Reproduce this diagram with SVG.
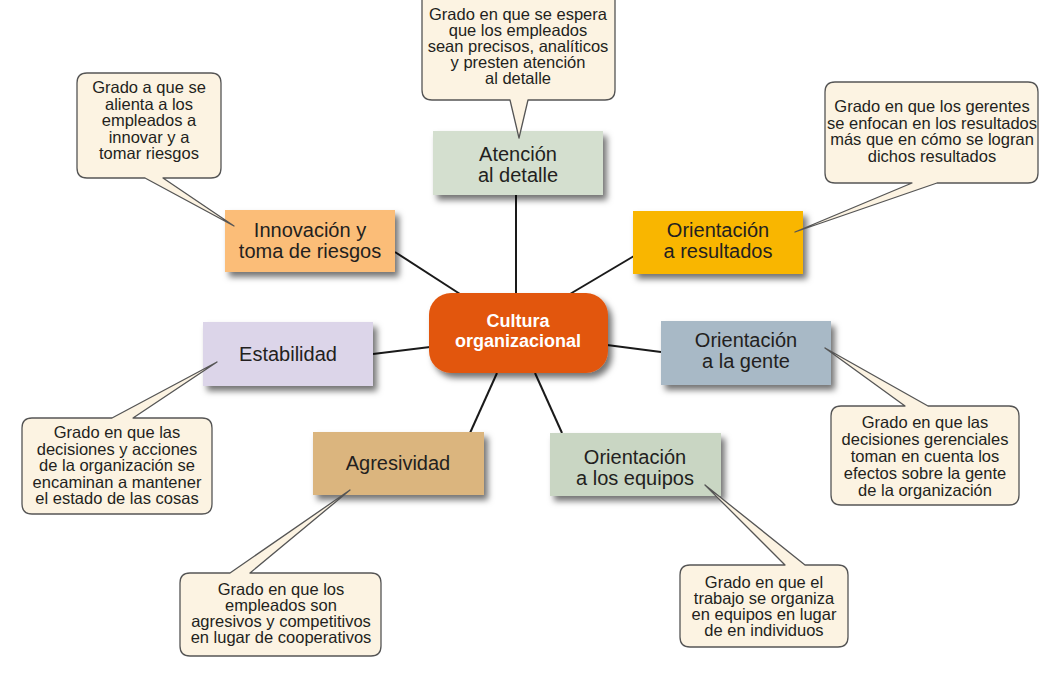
<svg xmlns="http://www.w3.org/2000/svg" width="1063" height="684" viewBox="0 0 1063 684">
<defs>
<filter id="sh" x="-20%" y="-20%" width="150%" height="160%">
<feDropShadow dx="4" dy="5" stdDeviation="3" flood-color="#000" flood-opacity="0.55"/>
</filter>
<style>
.box{stroke:none;filter:url(#sh)}
.bt{font-family:"Liberation Sans",Arial,sans-serif;font-size:20px;fill:#231f20;text-anchor:middle}
.ct{font-family:"Liberation Sans",Arial,sans-serif;font-size:18px;font-weight:bold;fill:#ffffff;text-anchor:middle}
.bub{fill:#fcf3e2;stroke:#555;stroke-width:1.3;stroke-linejoin:round}
.qt{font-family:"Liberation Sans",Arial,sans-serif;font-size:16.5px;fill:#231f20;text-anchor:middle}
.con{stroke:#1a1a1a;stroke-width:2;fill:none}
</style>
</defs>
<rect width="1063" height="684" fill="#ffffff"/>
<g id="connectors">
<line class="con" x1="516" y1="195" x2="516" y2="294"/>
<line class="con" x1="395" y1="252" x2="460" y2="294"/>
<line class="con" x1="634" y1="256" x2="570" y2="294"/>
<line class="con" x1="373" y1="354" x2="430" y2="347"/>
<line class="con" x1="607" y1="345" x2="661" y2="352"/>
<line class="con" x1="497" y1="373" x2="470" y2="433"/>
<line class="con" x1="535" y1="373" x2="562" y2="433"/>
</g>
<g id="node-atencion">
<rect class="box" x="433" y="131" width="170" height="64" fill="#d4dfcf"/>
<text class="bt" x="518" y="161">Atención</text>
<text class="bt" x="518" y="182">al detalle</text>
</g>
<g id="node-innovacion">
<rect class="box" x="225" y="210" width="170" height="62" fill="#fbbd78"/>
<text class="bt" x="310" y="237">Innovación y</text>
<text class="bt" x="310" y="258">toma de riesgos</text>
</g>
<g id="node-resultados">
<rect class="box" x="633" y="211" width="170" height="63" fill="#f9b600"/>
<text class="bt" x="718" y="237">Orientación</text>
<text class="bt" x="718" y="258">a resultados</text>
</g>
<g id="node-estabilidad">
<rect class="box" x="203" y="322" width="170" height="64" fill="#dcd5e9"/>
<text class="bt" x="288" y="361">Estabilidad</text>
</g>
<g id="node-gente">
<rect class="box" x="661" y="321" width="170" height="64" fill="#a8b9c6"/>
<text class="bt" x="746" y="347">Orientación</text>
<text class="bt" x="746" y="368">a la gente</text>
</g>
<g id="node-agresividad">
<rect class="box" x="313" y="432" width="171" height="63" fill="#dbb57e"/>
<text class="bt" x="398" y="470">Agresividad</text>
</g>
<g id="node-equipos">
<rect class="box" x="550" y="433" width="171" height="63" fill="#c9d6c3"/>
<text class="bt" x="635" y="464">Orientación</text>
<text class="bt" x="635" y="485">a los equipos</text>
</g>
<g id="node-cultura">
<rect class="box" x="429" y="293" width="179" height="80" rx="22" fill="#e2560e"/>
<text class="ct" x="518" y="327">Cultura</text>
<text class="ct" x="518" y="347">organizacional</text>
</g>
<g id="callout-atencion">
<path class="bub" d="M432,-10 H605 Q615,-10 615,0 V90 Q615,100 605,100 H528 L519,138 L510,100 H432 Q422,100 422,90 V0 Q422,-10 432,-10 Z"/>
<text class="qt" x="518" y="19.5">Grado en que se espera</text>
<text class="qt" x="518" y="35.5">que los empleados</text>
<text class="qt" x="518" y="51.5">sean precisos, analíticos</text>
<text class="qt" x="518" y="67.5">y presten atención</text>
<text class="qt" x="518" y="83.5">al detalle</text>
</g>
<g id="callout-innovacion">
<path class="bub" d="M87,73 H211 Q221,73 221,83 V168 Q221,178 211,178 H163 L234,226 L145,178 H87 Q77,178 77,168 V83 Q77,73 87,73 Z"/>
<text class="qt" x="149" y="93">Grado a que se</text>
<text class="qt" x="149" y="109.5">alienta a los</text>
<text class="qt" x="149" y="126">empleados a</text>
<text class="qt" x="149" y="142.5">innovar y a</text>
<text class="qt" x="149" y="159">tomar riesgos</text>
</g>
<g id="callout-resultados">
<path class="bub" d="M835,82 H1028 Q1038,82 1038,92 V173 Q1038,183 1028,183 H937 L795,232 L912,183 H835 Q825,183 825,173 V92 Q825,82 835,82 Z"/>
<text class="qt" x="932" y="112">Grado en que los gerentes</text>
<text class="qt" x="932" y="128.5">se enfocan en los resultados</text>
<text class="qt" x="932" y="145">más que en cómo se logran</text>
<text class="qt" x="932" y="161.5">dichos resultados</text>
</g>
<g id="callout-estabilidad">
<path class="bub" d="M32,418 H112 L217,362 L133,418 H202 Q212,418 212,428 V504 Q212,514 202,514 H32 Q22,514 22,504 V428 Q22,418 32,418 Z"/>
<text class="qt" x="117" y="438">Grado en que las</text>
<text class="qt" x="117" y="454.5">decisiones y acciones</text>
<text class="qt" x="117" y="471">de la organización se</text>
<text class="qt" x="117" y="487.5">encaminan a mantener</text>
<text class="qt" x="117" y="504">el estado de las cosas</text>
</g>
<g id="callout-gente">
<path class="bub" d="M841,406 H905 L825,348 L928,406 H1009 Q1019,406 1019,416 V495 Q1019,505 1009,505 H841 Q831,505 831,495 V416 Q831,406 841,406 Z"/>
<text class="qt" x="925" y="428">Grado en que las</text>
<text class="qt" x="925" y="445">decisiones gerenciales</text>
<text class="qt" x="925" y="462">toman en cuenta los</text>
<text class="qt" x="925" y="479">efectos sobre la gente</text>
<text class="qt" x="925" y="496">de la organización</text>
</g>
<g id="callout-agresividad">
<path class="bub" d="M190,573 H230 L350,490 L250,573 H371 Q381,573 381,583 V646 Q381,656 371,656 H190 Q180,656 180,646 V583 Q180,573 190,573 Z"/>
<text class="qt" x="281" y="595">Grado en que los</text>
<text class="qt" x="281" y="611">empleados son</text>
<text class="qt" x="281" y="627">agresivos y competitivos</text>
<text class="qt" x="281" y="643">en lugar de cooperativos</text>
</g>
<g id="callout-equipos">
<path class="bub" d="M690,565 H785 L705,485 L805,565 H838 Q848,565 848,575 V637 Q848,647 838,647 H690 Q680,647 680,637 V575 Q680,565 690,565 Z"/>
<text class="qt" x="764" y="588">Grado en que el</text>
<text class="qt" x="764" y="604">trabajo se organiza</text>
<text class="qt" x="764" y="620">en equipos en lugar</text>
<text class="qt" x="764" y="636">de en individuos</text>
</g>
</svg>
